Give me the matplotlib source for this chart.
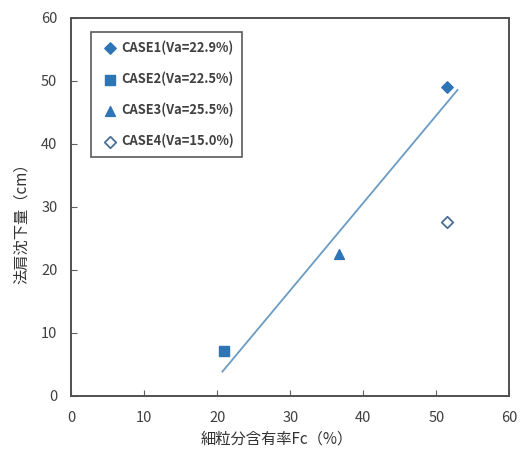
import matplotlib
matplotlib.use("Agg")
import matplotlib.pyplot as plt
import numpy as np

plt.rcParams['font.family'] = ['Noto Sans CJK JP', 'DejaVu Sans']

# data
case_labels = ['CASE1(Va=22.9%)', 'CASE2(Va=22.5%)', 'CASE3(Va=25.5%)', 'CASE4(Va=15.0%)']
fc = [51.4, 20.9, 36.7, 51.4]
settlement = [49.0, 7.1, 22.5, 27.6]
markers = ['D', 's', '^', 'D']
filled = [True, True, True, False]

# trend line end points
trend_x = [20.7, 52.9]
trend_y = [3.8, 48.5]

blue = '#2E75B6'

fig = plt.figure(figsize=(5.24, 4.5), dpi=100)
ax = fig.add_axes([0.136, 0.121, 0.836, 0.840])

ax.plot(trend_x, trend_y, color='#6A9BC3', lw=1.3, zorder=2)

sizes = [34, 60, 50, 34]
for x, y, lab, m, f, s in zip(fc, settlement, case_labels, markers, filled, sizes):
    if f:
        ax.scatter(x, y, marker=m, s=s, color=blue, label=lab, zorder=3)
    else:
        ax.scatter(x, y, marker=m, s=s, facecolor='white', edgecolor='#4A6F99',
                   linewidth=1.3, label=lab, zorder=3)

ax.set_xlim(0, 60)
ax.set_ylim(0, 60)
ax.set_xticks(np.arange(0, 61, 10))
ax.set_yticks(np.arange(0, 61, 10))
ax.tick_params(direction='in', length=4, color='#606060', labelsize=10.5, labelcolor='#404040')
ax.tick_params(axis='y', pad=10)
ax.tick_params(axis='x', pad=11)
for sp in ax.spines.values():
    sp.set_color('#505050')
    sp.set_linewidth(1.4)

ax.set_xlabel('細粒分含有率Fc（%）', fontsize=11, color='#333333')
ax.xaxis.set_label_coords(0.47, -0.092)
ax.set_ylabel('法肩沈下量（cm）', fontsize=11, color='#333333')
ax.yaxis.set_label_coords(-0.095, 0.465)

leg = ax.legend(loc='upper left', bbox_to_anchor=(0.045, 0.962), frameon=True, fancybox=False,
                prop={'size': 9.3, 'weight': 'bold'}, labelspacing=1.3, borderaxespad=0,
                handletextpad=0.1, handlelength=1.6, borderpad=0.65)
leg.get_frame().set_edgecolor('#303030')
leg.get_frame().set_linewidth(1.2)
for t in leg.get_texts():
    t.set_color('#404040')

fig.savefig('out.png', dpi=100)
